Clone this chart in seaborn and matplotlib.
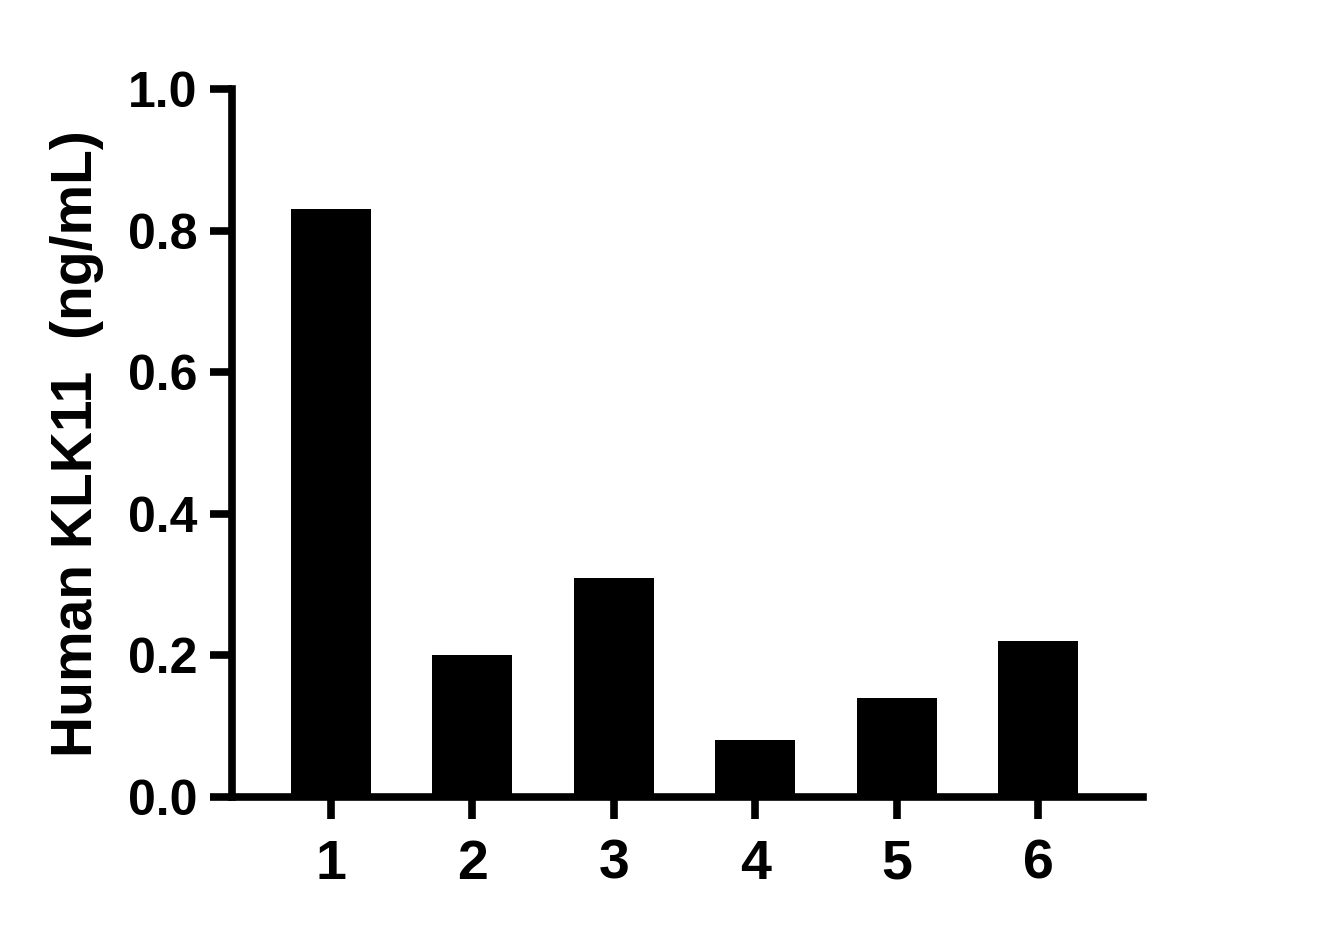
import pandas as pd
import matplotlib
matplotlib.use('Agg')
import matplotlib.pyplot as plt
import seaborn as sns

# Values
samples = ['1', '2', '3', '4', '5', '6']
klk11 = [0.83, 0.20, 0.31, 0.08, 0.14, 0.22]
y_ticks = [0.0, 0.2, 0.4, 0.6, 0.8, 1.0]

data = pd.DataFrame({'sample': samples, 'klk11': klk11})

sns.set_style('ticks')
plt.rcParams['font.family'] = ['Liberation Sans', 'DejaVu Sans']
plt.rcParams['font.weight'] = 'bold'
plt.rcParams['text.color'] = 'black'
plt.rcParams['axes.labelcolor'] = 'black'

fig = plt.figure(figsize=(13.21, 9.38), dpi=100)
ax = fig.add_axes([0.1756, 0.1503, 0.6894, 0.7547])

sns.barplot(data=data, x='sample', y='klk11', color='black', saturation=1,
            width=0.566, edgecolor='black', linewidth=0, ax=ax)

ax.set_xlim(-0.7, 5.74)
ax.set_ylim(0, 1.0)
ax.set_yticks(y_ticks)
ax.set_yticklabels([f'{t:.1f}' for t in y_ticks])

for side in ['top', 'right']:
    ax.spines[side].set_visible(False)
for side in ['left', 'bottom']:
    ax.spines[side].set_linewidth(5.5)
    ax.spines[side].set_color('black')
    ax.spines[side].set_capstyle('projecting')

ax.tick_params(axis='y', length=16, width=5.5, pad=9, labelsize=36, colors='black')
ax.tick_params(axis='x', length=16, width=5.5, pad=14, labelsize=40, colors='black')
for lab in ax.get_xticklabels() + ax.get_yticklabels():
    lab.set_fontweight('bold')

ax.set_xlabel('')
ax.set_ylabel('Human KLK11  (ng/mL)', fontsize=41, fontweight='bold',
              color='black', labelpad=17)

fig.savefig('out.png', dpi=100, facecolor='white')
